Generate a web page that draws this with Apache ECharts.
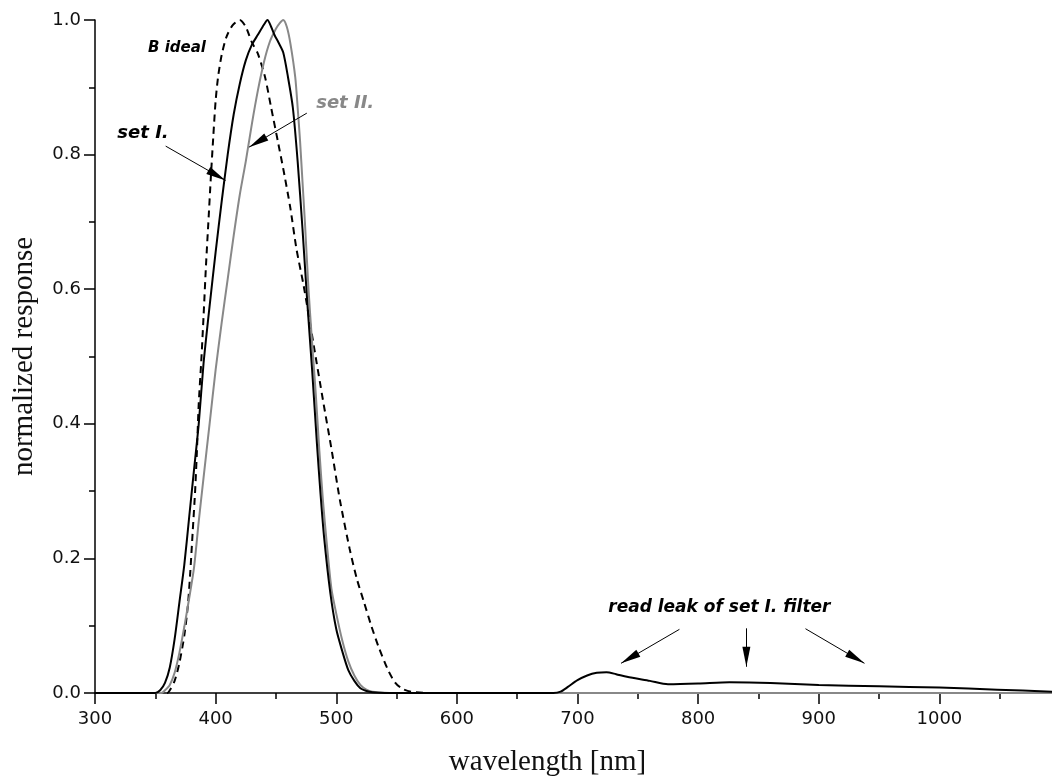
<!DOCTYPE html>
<html>
<head>
<meta charset="utf-8">
<script src="https://cdn.jsdelivr.net/npm/echarts@6/dist/echarts.min.js"></script>
<style>
html,body{margin:0;padding:0;background:#fff;}
#chart{width:1052px;height:778px;}
</style>
</head>
<body>
<div id="chart"></div>
<script>
// ---- data (wavelength in nm, normalized response) ----
const setI_wl = [300,350,354,358,362,366,370,374,378,382,386,390,395,400,405,410,415,420,425,430,435,440,443,446,449,452,456,460,464,468,472,476,480,484,487,490,495,500,505,510,515,520,525,530,540,600,680,686,692,700,708,716,724,732,741,760,775,800,826,860,900,950,1000,1048,1094];
const setI_val = [0,0,0.004,0.015,0.038,0.08,0.135,0.19,0.26,0.33,0.40,0.49,0.575,0.655,0.73,0.80,0.86,0.905,0.94,0.963,0.978,0.993,1.0,0.99,0.977,0.967,0.952,0.915,0.87,0.79,0.69,0.58,0.48,0.37,0.295,0.23,0.15,0.095,0.062,0.034,0.018,0.007,0.003,0.001,0,0,0,0.002,0.009,0.019,0.026,0.030,0.031,0.028,0.024,0.018,0.013,0.014,0.016,0.015,0.012,0.010,0.008,0.005,0.002];

const setII_wl = [300,355,358,362,366,370,374,378,382,386,390,395,400,405,410,415,420,425,430,435,440,445,450,453,456,459,462,466,468,470,472,474,477,480,483,486,489,492,496,500,505,510,515,520,525,530,540,560,1094];
const setII_val = [0,0,0.004,0.012,0.03,0.06,0.098,0.14,0.185,0.255,0.32,0.40,0.48,0.55,0.615,0.68,0.74,0.79,0.845,0.895,0.937,0.968,0.987,0.995,1.0,0.99,0.965,0.915,0.87,0.82,0.76,0.70,0.60,0.52,0.445,0.36,0.285,0.225,0.155,0.118,0.078,0.047,0.026,0.012,0.005,0.002,0.0005,0,0];

const bIdeal_wl = [300,360,362,366,370,374,377,379,381,383,384.5,386,388,390,392,394,396,398,400,402,405,409,414,420,425,430,435,441,446,452,457,462,467,473,481,489,496,503,511,517,523,529,535,543,549,555,562,575,1094];
const bIdeal_val = [0,0,0.004,0.018,0.045,0.085,0.13,0.18,0.24,0.30,0.36,0.43,0.49,0.56,0.635,0.70,0.765,0.825,0.88,0.915,0.948,0.975,0.992,1.0,0.99,0.967,0.95,0.915,0.87,0.816,0.77,0.72,0.66,0.605,0.52,0.435,0.363,0.287,0.215,0.17,0.135,0.10,0.069,0.034,0.015,0.006,0.002,0,0];

const xTicks = [300,400,500,600,700,800,900,1000];
const yTicks = [0,0.2,0.4,0.6,0.8,1.0];

// annotations: [text, x, y, font size, colour] with x, y in data units
const labels = [
  ['B ideal', 368.0, 0.958, 15, '#000'],
  ['set I.', 339.8, 0.8315, 18, '#000'],
  ['set II.', 507.4, 0.8756, 18, '#888'],
  ['read leak of set I. filter', 817.6, 0.1262, 17, '#000']
];
// arrows: [x0,y0,x1,y1] in data units (tail -> head)
const arrows = [
  [358.6, 0.8126, 408.3, 0.7617],
  [475.6, 0.8616, 427.7, 0.8111],
  [784.5, 0.0946, 736.1, 0.0441],
  [840.0, 0.0961, 840.0, 0.0390],
  [889.0, 0.0955, 937.9, 0.0441]
];

const zip = (a,b) => a.map((v,i)=>[v,b[i]]);

const chart = echarts.init(document.getElementById('chart'), null, {renderer:'canvas'});
const axisFont = {fontFamily:'DejaVu Sans', fontSize:18, color:'#111'};
const headLen = 20;
const option = {
  animation:false,
  backgroundColor:'#fff',
  grid:{left:95, right:-8, top:20, bottom:85, containLabel:false, outerBoundsMode:'none'},
  xAxis:{
    type:'value', min:300, max:1100, interval:100,
    name:'wavelength [nm]', nameLocation:'middle', nameGap:55,
    nameTextStyle:{fontFamily:'Liberation Serif', fontSize:29, color:'#111', padding:[0,60,0,0]},
    axisLine:{show:true, onZero:false, lineStyle:{color:'#000', width:1.5}},
    axisTick:{show:true, inside:false, length:11, lineStyle:{color:'#000', width:1.5}},
    minorTick:{show:true, splitNumber:2, length:6, lineStyle:{color:'#000', width:1.5}},
    axisLabel:Object.assign({margin:17, showMaxLabel:false, formatter:v=> xTicks.includes(v)? String(v) : ''}, axisFont),
    splitLine:{show:false}
  },
  yAxis:{
    type:'value', min:0, max:1.0, interval:0.2,
    name:'normalized response', nameLocation:'middle', nameGap:56,
    nameTextStyle:{fontFamily:'Liberation Serif', fontSize:29, color:'#111'},
    axisLine:{show:true, onZero:false, lineStyle:{color:'#000', width:1.5}},
    axisTick:{show:true, inside:false, length:11, lineStyle:{color:'#000', width:1.5}},
    minorTick:{show:true, splitNumber:2, length:6, lineStyle:{color:'#000', width:1.5}},
    axisLabel:Object.assign({margin:14, formatter:v=> yTicks.some(t=>Math.abs(t-v)<1e-9)? v.toFixed(1) : ''}, axisFont),
    splitLine:{show:false}
  },
  series:[
    {name:'B ideal', type:'line', data:zip(bIdeal_wl,bIdeal_val), showSymbol:false, smooth:0.25,
      lineStyle:{color:'#000', width:2, type:[7,5]}, z:2},
    {name:'set II.', type:'line', data:zip(setII_wl,setII_val), showSymbol:false, smooth:0.25,
      lineStyle:{color:'#888', width:2}, z:3},
    {name:'set I.', type:'line', data:zip(setI_wl,setI_val), showSymbol:false, smooth:0.25,
      lineStyle:{color:'#000', width:2}, z:4,
      markLine:{silent:true, animation:false, symbol:['none','triangle'], symbolSize:[8,headLen],
        symbolOffset:[[0,0],[0,headLen/2]],
        lineStyle:{color:'#000', width:1, type:'solid'}, label:{show:false},
        emphasis:{disabled:true},
        data: arrows.map(a=>[{coord:[a[0],a[1]]},{coord:[a[2],a[3]]}])}
    }
  ]
};
chart.setOption(option);

const g = labels.map(l=>{
  const p = chart.convertToPixel({gridIndex:0}, [l[1], l[2]]);
  return {type:'text', x:p[0], y:p[1], z:10,
    style:{text:l[0], fill:l[4], font:'italic bold '+l[3]+'px "DejaVu Sans"', align:'center', verticalAlign:'middle'}};
});
chart.setOption({graphic:g});
</script>
</body>
</html>
